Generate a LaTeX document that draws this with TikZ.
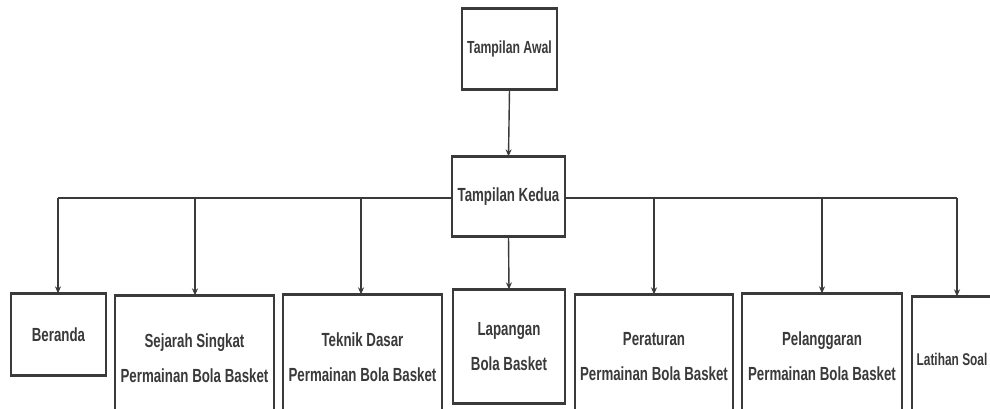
\documentclass[tikz,border=0pt]{standalone}
\usepackage{fontspec}
\setmainfont{Liberation Sans}[FakeStretch=0.7]
\usetikzlibrary{arrows.meta,calc}
\definecolor{ink}{HTML}{3A3A3A}
\begin{document}
\begin{tikzpicture}[x=1pt,y=-1pt,
  bx/.style={draw=ink, line width=1.3pt, align=center, inner sep=0pt,
     font=\fontsize{19}{35}\selectfont\bfseries, text=ink},
  edge/.style={draw=ink, line width=3pt},
  arr/.style={draw=ink, line width=1.4pt, -{Stealth[length=7pt,width=6pt]}},
  bus/.style={draw=ink, line width=1.6pt}]
\useasboundingbox (0,0) rectangle (990,408);
\clip (0,0) rectangle (990,408);
\fill[white] (0,0) rectangle (990,408);

\node[bx, minimum width=95pt, minimum height=80pt, font=\fontsize{17.5}{30}\selectfont\bfseries] (awal) at (509.5,49) {Tampilan Awal};
\node[bx, minimum width=113pt, minimum height=79pt] (kedua) at (508.5,196.5) {Tampilan Kedua};

\node[bx, minimum width=95pt, minimum height=81pt] (beranda) at (58.5,334.5) {Beranda};
\node[bx, minimum width=159pt, minimum height=124pt] (sejarah) at (194.5,358) {Sejarah Singkat\\Permainan Bola Basket};
\node[bx, minimum width=159pt, minimum height=124pt] (teknik) at (362.5,357) {Teknik Dasar\\Permainan Bola Basket};
\node[bx, minimum width=112pt, minimum height=113pt] (lapangan) at (509,346.5) {Lapangan\\Bola Basket};
\node[bx, minimum width=158pt, minimum height=124pt] (peraturan) at (654,357) {Peraturan\\Permainan Bola Basket};
\node[bx, minimum width=160pt, minimum height=124pt] (pelanggaran) at (822,356) {Pelanggaran\\Permainan Bola Basket};
\node[bx, minimum width=80pt, minimum height=124pt, font=\fontsize{17}{30}\selectfont\bfseries] (latihan) at (952,359) {Latihan Soal};

\foreach \n in {awal,kedua,beranda,sejarah,teknik,lapangan,peraturan,pelanggaran,latihan}{
  \draw[edge] (\n.north west) -- (\n.north east);
  \draw[edge] (\n.south west) -- (\n.south east);
}

\coordinate (b1) at (58,198);
\coordinate (b2) at (195,198);
\coordinate (b3) at (361,198);
\coordinate (b5) at (654,198);
\coordinate (b6) at (822,198);
\coordinate (b7) at (957,198);

\draw[arr] (awal.south) -- (kedua.north);
\draw[bus] (kedua.west |- b1) -- (b1);
\draw[bus] (kedua.east |- b7) -- (b7);
\draw[arr] (b1) -- (b1 |- beranda.north);
\draw[arr] (b2) -- (b2 |- sejarah.north);
\draw[arr] (b3) -- (b3 |- teknik.north);
\draw[arr] (kedua.south) -- (lapangan.north);
\draw[arr] (b5) -- (b5 |- peraturan.north);
\draw[arr] (b6) -- (b6 |- pelanggaran.north);
\draw[arr] (b7) -- (b7 |- latihan.north);
\end{tikzpicture}
\end{document}
